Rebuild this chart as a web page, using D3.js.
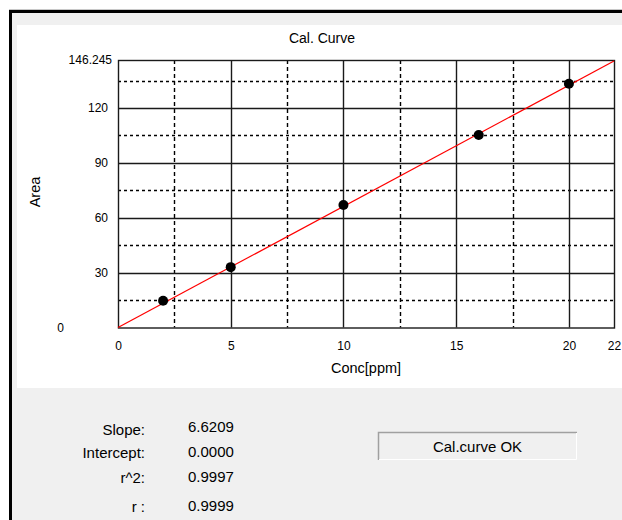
<!DOCTYPE html>
<html>
<head>
<meta charset="utf-8">
<script src="https://cdn.jsdelivr.net/npm/d3@7"></script>
<style>
  html, body { margin: 0; padding: 0; background: #ffffff; }
  svg { display: block; }
  text { font-family: "Liberation Sans", Arial, sans-serif; fill: #000; }
</style>
</head>
<body>
<script>
// Calibration standards: concentration (ppm) and measured peak area
const conc = [2, 5, 10, 16, 20];
const area = [14.6, 33.0, 67.0, 105.2, 133.3];

// Axis ticks
const xTicks = [0, 5, 10, 15, 20, 22];
const xMinorGrid = [2.5, 7.5, 12.5, 17.5];
const xMajorGrid = [5, 10, 15, 20];
const yTicks = [0, 30, 60, 90, 120];
const yMinorGrid = [15, 45, 75, 105, 135];
const yMajorGrid = [30, 60, 90, 120];
const xMax = 22;
const yMax = 146.245;

// Fit results
const statLabels = ["Slope:", "Intercept:", "r^2:", "r :"];
const statValues = ["6.6209", "0.0000", "0.9997", "0.9999"];
const slope = 6.6209;
const intercept = 0.0;
const status = "Cal.curve OK";

const W = 622, H = 520;
const svg = d3.select("body").append("svg").attr("width", W).attr("height", H);

// Window frame
svg.append("rect").attr("x", 0).attr("y", 0).attr("width", W).attr("height", H).attr("fill", "#ffffff");
svg.append("rect").attr("x", 9).attr("y", 10).attr("width", W - 9).attr("height", H - 10).attr("fill", "#f0f0f0");
svg.append("line").attr("x1", 9).attr("x2", W).attr("y1", 9.5).attr("y2", 9.5).attr("stroke", "#c8c8c8");
svg.append("rect").attr("x", 9).attr("y", 10).attr("width", 3).attr("height", H - 10).attr("fill", "#000");
svg.append("rect").attr("x", 9).attr("y", 10).attr("width", W - 9).attr("height", 3).attr("fill", "#000");

// White chart panel
svg.append("rect").attr("x", 17).attr("y", 25).attr("width", W - 17).attr("height", 363).attr("fill", "#ffffff");

const plot = { left: 118, right: 614, top: 60, bottom: 327.5 };
const x = d3.scaleLinear().domain([0, xMax]).range([plot.left, plot.right]);
const y = d3.scaleLinear().domain([0, yMax]).range([plot.bottom, plot.top]);

const g = svg.append("g");

// Dashed minor grid
g.selectAll("line.vminor").data(xMinorGrid).enter().append("line")
  .attr("x1", d => Math.round(x(d)) + 0.5).attr("x2", d => Math.round(x(d)) + 0.5)
  .attr("y1", plot.top).attr("y2", plot.bottom)
  .attr("stroke", "#000").attr("stroke-width", 1.4).attr("stroke-dasharray", "4,3");
g.selectAll("line.hminor").data(yMinorGrid).enter().append("line")
  .attr("x1", plot.left).attr("x2", plot.right)
  .attr("y1", d => Math.round(y(d)) + 0.5).attr("y2", d => Math.round(y(d)) + 0.5)
  .attr("stroke", "#000").attr("stroke-width", 1.4).attr("stroke-dasharray", "3,3");

// Solid major grid
g.selectAll("line.vmajor").data(xMajorGrid).enter().append("line")
  .attr("x1", d => Math.round(x(d)) + 0.5).attr("x2", d => Math.round(x(d)) + 0.5)
  .attr("y1", plot.top).attr("y2", plot.bottom)
  .attr("stroke", "#1a1a1a").attr("stroke-width", 1.4);
g.selectAll("line.hmajor").data(yMajorGrid).enter().append("line")
  .attr("x1", plot.left).attr("x2", plot.right)
  .attr("y1", d => Math.round(y(d)) + 0.5).attr("y2", d => Math.round(y(d)) + 0.5)
  .attr("stroke", "#1a1a1a").attr("stroke-width", 1.4);

// Plot border
g.append("rect")
  .attr("x", plot.left + 0.5).attr("y", plot.top + 0.5)
  .attr("width", plot.right - plot.left).attr("height", plot.bottom - plot.top)
  .attr("fill", "none").attr("stroke", "#1a1a1a").attr("stroke-width", 1.4);

// Fitted line
g.append("line")
  .attr("x1", x(0)).attr("y1", y(intercept))
  .attr("x2", x(xMax)).attr("y2", y(intercept + slope * xMax))
  .attr("stroke", "#ff0000").attr("stroke-width", 1.2);

// Standards
g.selectAll("circle.pt").data(conc).enter().append("circle")
  .attr("cx", d => x(d)).attr("cy", (d, i) => y(area[i]))
  .attr("r", 5).attr("fill", "#000");

// X axis labels
const xAxis = d3.axisBottom(x).tickValues(xTicks).tickSize(0).tickPadding(14).tickFormat(d3.format("d"));
const xa = svg.append("g").attr("transform", `translate(0,${plot.bottom})`).call(xAxis);
xa.select(".domain").remove();
xa.selectAll("text").attr("font-size", 12).attr("font-family", "Liberation Sans, Arial, sans-serif");

// Y axis labels (zero sits further left, the top label shows the axis maximum)
const yAxis = d3.axisLeft(y).tickValues(yTicks.concat([yMax])).tickSize(0).tickPadding(10)
  .tickFormat(d => d === yMax ? "146.245" : d3.format("d")(d));
const ya = svg.append("g").attr("transform", `translate(${plot.left},0)`).call(yAxis);
ya.select(".domain").remove();
ya.selectAll("text").attr("font-size", 12).attr("font-family", "Liberation Sans, Arial, sans-serif")
  .attr("dx", d => d === yMax ? 4 : (d === 0 ? -44 : 0));

// Titles
svg.append("text").attr("x", 322).attr("y", 43).attr("text-anchor", "middle").attr("font-size", 14).text("Cal. Curve");
svg.append("text").attr("x", 366).attr("y", 373).attr("text-anchor", "middle").attr("font-size", 14.5).text("Conc[ppm]");
svg.append("text").attr("transform", "translate(40,192) rotate(-90)").attr("text-anchor", "middle").attr("font-size", 14.5).text("Area");

// Fit statistics
const statY = [435, 458, 483, 512];
const valY = [432, 457, 482, 511];
svg.selectAll("text.lab").data(statLabels).enter().append("text")
  .attr("x", 145).attr("y", (d, i) => statY[i]).attr("text-anchor", "end").attr("font-size", 15).text(d => d);
svg.selectAll("text.val").data(statValues).enter().append("text")
  .attr("x", 188).attr("y", (d, i) => valY[i]).attr("font-size", 15).text(d => d);

// Status box
const box = svg.append("g").attr("transform", "translate(378,432)");
box.append("rect").attr("x", 0).attr("y", 0).attr("width", 199).attr("height", 28).attr("fill", "#f0f0f0");
box.append("path").attr("d", "M0.5,28 V0.5 H199").attr("fill", "none").attr("stroke", "#a0a0a0").attr("stroke-width", 1.5);
box.append("path").attr("d", "M1,27.5 H198.5 V1").attr("fill", "none").attr("stroke", "#ffffff").attr("stroke-width", 1);
box.append("text").attr("x", 99.5).attr("y", 20).attr("text-anchor", "middle").attr("font-size", 15).text(status);
</script>
</body>
</html>
